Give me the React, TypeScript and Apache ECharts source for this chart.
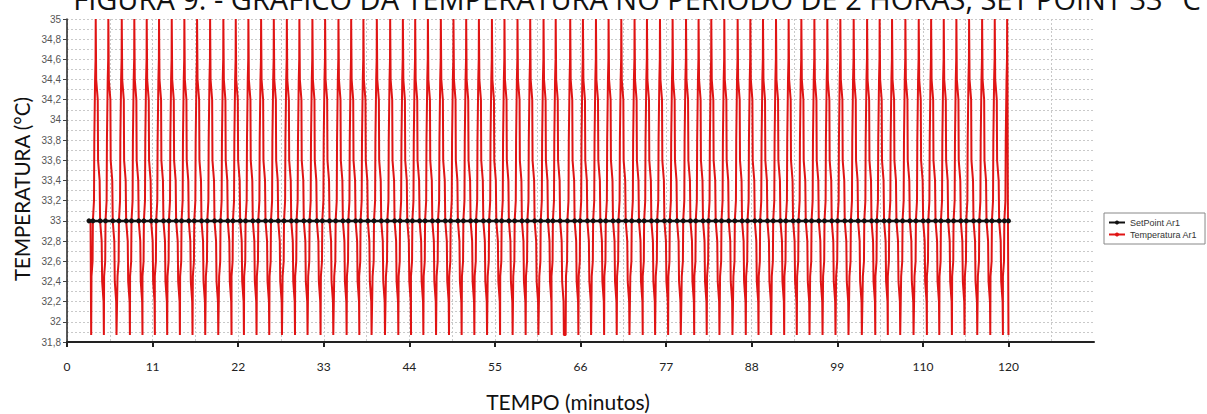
import React, { useEffect, useRef } from "react";
import * as echarts from "echarts";

// ---- Data ----
const titleText =
  "FIGURA 9: - GRÁFICO DA TEMPERATURA NO PERÍODO DE 2 HORAS, SET POINT 33 °C";
const xAxisTitle = "TEMPO (minutos)";
const yAxisTitle = "TEMPERATURA (°C)";

// x tick labels as printed (evenly spaced between 0 and 120)
const xTickLabels = ["0", "11", "22", "33", "44", "55", "66", "77", "88", "99", "110", "120"];

// minutes at which each temperature peak (35 °C) occurs
const peakTimes = [
  3.66, 5.27, 6.98, 8.58, 10.16, 11.73, 13.35, 14.96, 16.58, 18.24, 19.93, 21.51,
  23.12, 24.74, 26.36, 28.02, 29.62, 31.28, 32.9, 34.6, 36.22, 37.78, 39.49, 41.19,
  42.81, 44.38, 46.0, 47.65, 49.26, 50.88, 52.5, 54.16, 55.76, 57.42, 59.04, 60.74,
  62.29, 64.14, 65.76, 67.42, 69.03, 70.65, 72.34, 73.92, 75.58, 77.19, 78.9, 80.5,
  82.12, 83.78, 85.48, 87.1, 88.71, 90.37, 91.98, 93.6, 95.26, 96.91, 98.57, 100.27,
  101.98, 103.58, 105.16, 106.86, 108.56, 110.14, 111.75, 113.36, 114.98, 116.64, 118.25, 119.83,
];

// shape of one cycle around a peak: [minutes relative to peak, °C]
const riseShape: [number, number][] = [
  [-0.58, 31.87], [-0.54, 32.45], [-0.4, 32.6], [-0.36, 33.0], [-0.22, 33.2],
  [-0.18, 33.8], [-0.08, 34.4], [-0.02, 34.6], [0, 35.0],
];
const fallShape: [number, number][] = [
  [0.06, 34.4], [0.26, 34.2], [0.3, 33.6], [0.5, 33.4], [0.56, 33.0],
  [0.76, 32.8], [0.82, 32.4], [1.0, 32.2], [1.04, 31.87],
];
const finalFall: [number, number][] = [
  [0.04, 34.4], [0.08, 33.4], [0.17, 31.87],
];
const startPoint: [number, number] = [3.0, 33.0];

const setPointValue = 33;
const setPointStart = 2.8;
const setPointEnd = 120;
// marker positions relative to each peak (where the curve crosses the set point)
const setPointMarkOffsets = [-0.36, 0.56];

// ---- Build series ----
const tempData: [number, number][] = [startPoint];
peakTimes.forEach((p, i) => {
  riseShape.forEach(([o, v]) => tempData.push([p + o, v]));
  const fall = i === peakTimes.length - 1 ? finalFall : fallShape;
  fall.forEach(([o, v]) => tempData.push([p + o, v]));
});

const spData: [number, number][] = [[setPointStart, setPointValue]];
peakTimes.forEach((p) => {
  setPointMarkOffsets.forEach((o) => {
    const t = p + o;
    if (t > setPointStart && t < setPointEnd) spData.push([t, setPointValue]);
  });
});
spData.push([setPointEnd, setPointValue]);

const xStep = 120 / 11;
const xTickValues = xTickLabels.map((_, i) => i * xStep);

const gridColor = "#c9c9c9";

const option: any = {
  animation: false,
  backgroundColor: "#ffffff",
  grid: { left: 67, right: 113, top: 19, bottom: 72, containLabel: false },
  xAxis: {
    type: "value",
    min: 0,
    max: 130.9,
    interval: xStep,
    axisLine: { show: true, lineStyle: { color: "#222", width: 2 } },
    axisTick: {
      show: true,
      length: 5,
      customValues: xTickValues,
      lineStyle: { color: "#222", width: 2 },
    },
    axisLabel: {
      customValues: xTickValues,
      margin: 18,
      fontSize: 12,
      color: "#222",
      fontFamily: "Lato",
      formatter: (v: number) => {
        const i = Math.round(v / xStep);
        if (Math.abs(v - i * xStep) > 1e-6 || i >= xTickLabels.length) return "";
        return xTickLabels[i];
      },
    },
    splitLine: { show: true, lineStyle: { color: gridColor, type: [2, 2], width: 1 } },
    minorTick: { show: false, splitNumber: 2 },
    minorSplitLine: { show: true, lineStyle: { color: gridColor, type: [2, 2], width: 1 } },
  },
  yAxis: {
    type: "value",
    min: 31.8,
    max: 35,
    interval: 0.2,
    axisLine: { show: true, lineStyle: { color: "#222", width: 1.5 } },
    axisTick: { show: true, length: 4, lineStyle: { color: "#444" } },
    axisLabel: {
      margin: 6,
      fontSize: 10,
      color: "#555",
      fontFamily: "Liberation Sans",
      formatter: (v: number) => String(Number(v.toFixed(1))).replace(".", ","),
    },
    splitLine: { show: true, lineStyle: { color: gridColor, type: [2, 2], width: 1 } },
    minorTick: { show: false, splitNumber: 2 },
    minorSplitLine: { show: true, lineStyle: { color: gridColor, type: [2, 2], width: 1 } },
  },
  legend: {
    orient: "vertical",
    left: 1104,
    top: 213,
    data: ["SetPoint Ar1", "Temperatura Ar1"],
    itemWidth: 16,
    itemHeight: 5,
    itemGap: 3,
    padding: [5, 8, 5, 4],
    borderColor: "#888",
    borderWidth: 1,
    textStyle: { fontSize: 9, color: "#333", fontFamily: "Liberation Sans" },
  },
  series: [
    {
      name: "Temperatura Ar1",
      type: "line",
      data: tempData,
      symbol: "none",
      lineStyle: { color: "#e01414", width: 2 },
      itemStyle: { color: "#e01414" },
      z: 2,
    },
    {
      name: "SetPoint Ar1",
      type: "line",
      data: spData,
      symbol: "circle",
      symbolSize: 5,
      showAllSymbol: true,
      lineStyle: { color: "#111", width: 2.5 },
      itemStyle: { color: "#111" },
      z: 3,
    },
  ],
  graphic: [
    {
      type: "text",
      x: 637,
      y: -2,
      style: {
        text: titleText,
        fontSize: 29,
        fontFamily: "Open Sans",
        fill: "#111",
        align: "center",
        verticalAlign: "middle",
      },
    },
    {
      type: "text",
      x: 568,
      y: 401,
      style: {
        text: xAxisTitle,
        fontSize: 21,
        fontFamily: "Lato",
        fill: "#111",
        align: "center",
        verticalAlign: "middle",
      },
    },
    {
      type: "text",
      x: 22,
      y: 189,
      rotation: Math.PI / 2,
      style: {
        text: yAxisTitle,
        fontSize: 20.5,
        fontFamily: "Lato",
        fill: "#111",
        align: "center",
        verticalAlign: "middle",
      },
    },
  ],
};

export default function App() {
  const ref = useRef<HTMLDivElement>(null);
  useEffect(() => {
    document.body.style.margin = "0";
    const chart = echarts.init(ref.current!, null, { renderer: "svg" });
    chart.setOption(option);
    return () => chart.dispose();
  }, []);
  return <div ref={ref} style={{ width: 1207, height: 414, background: "#fff" }} />;
}
